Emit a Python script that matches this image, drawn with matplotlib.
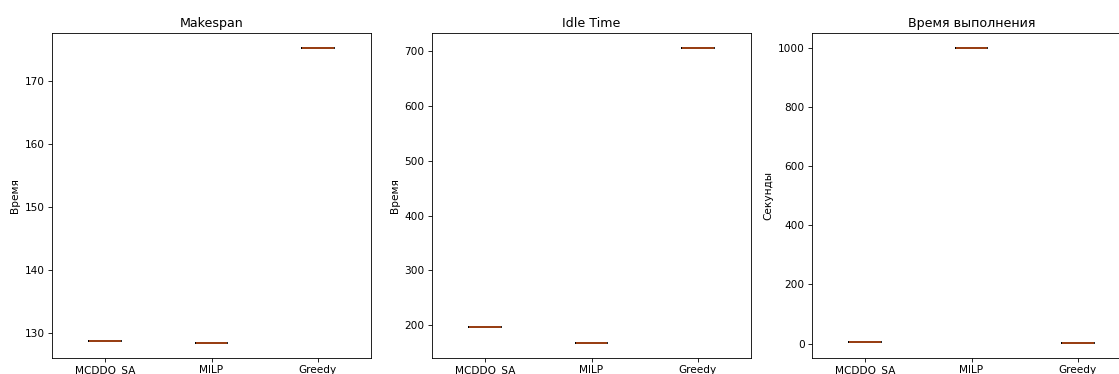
import matplotlib
matplotlib.use('Agg')
import matplotlib.pyplot as plt

methods = ['MCDDO_SA', 'MILP', 'Greedy']

# one value per method (all runs gave the same result)
makespan = [[128.8], [128.45], [175.2]]
idle_time = [[196.3], [167.0], [706.8]]
run_time = [[7.0], [1000.0], [1.5]]

panels = [
    ('Makespan', 'Время', makespan),
    ('Idle Time', 'Время', idle_time),
    ('Время выполнения', 'Секунды', run_time),
]

W, H = 1119, 374
DPI = 76
fig = plt.figure(figsize=(W / DPI, H / DPI), dpi=DPI)

lefts = [52, 432, 812]
for left, (title, ylabel, data) in zip(lefts, panels):
    ax = fig.add_axes([left / W, 16 / H, 319 / W, 325 / H])
    ax.boxplot(data, widths=0.3,
               boxprops=dict(color='black', linewidth=1.5),
               whiskerprops=dict(color='black', linewidth=1.5),
               capprops=dict(color='black', linewidth=1.5),
               medianprops=dict(color='#c0501a', linewidth=1.5))
    ax.set_xticks([1, 2, 3])
    ax.set_xticklabels(methods)
    ax.set_title(title)
    ax.set_ylabel(ylabel)

plt.savefig('out.png', dpi=DPI)
